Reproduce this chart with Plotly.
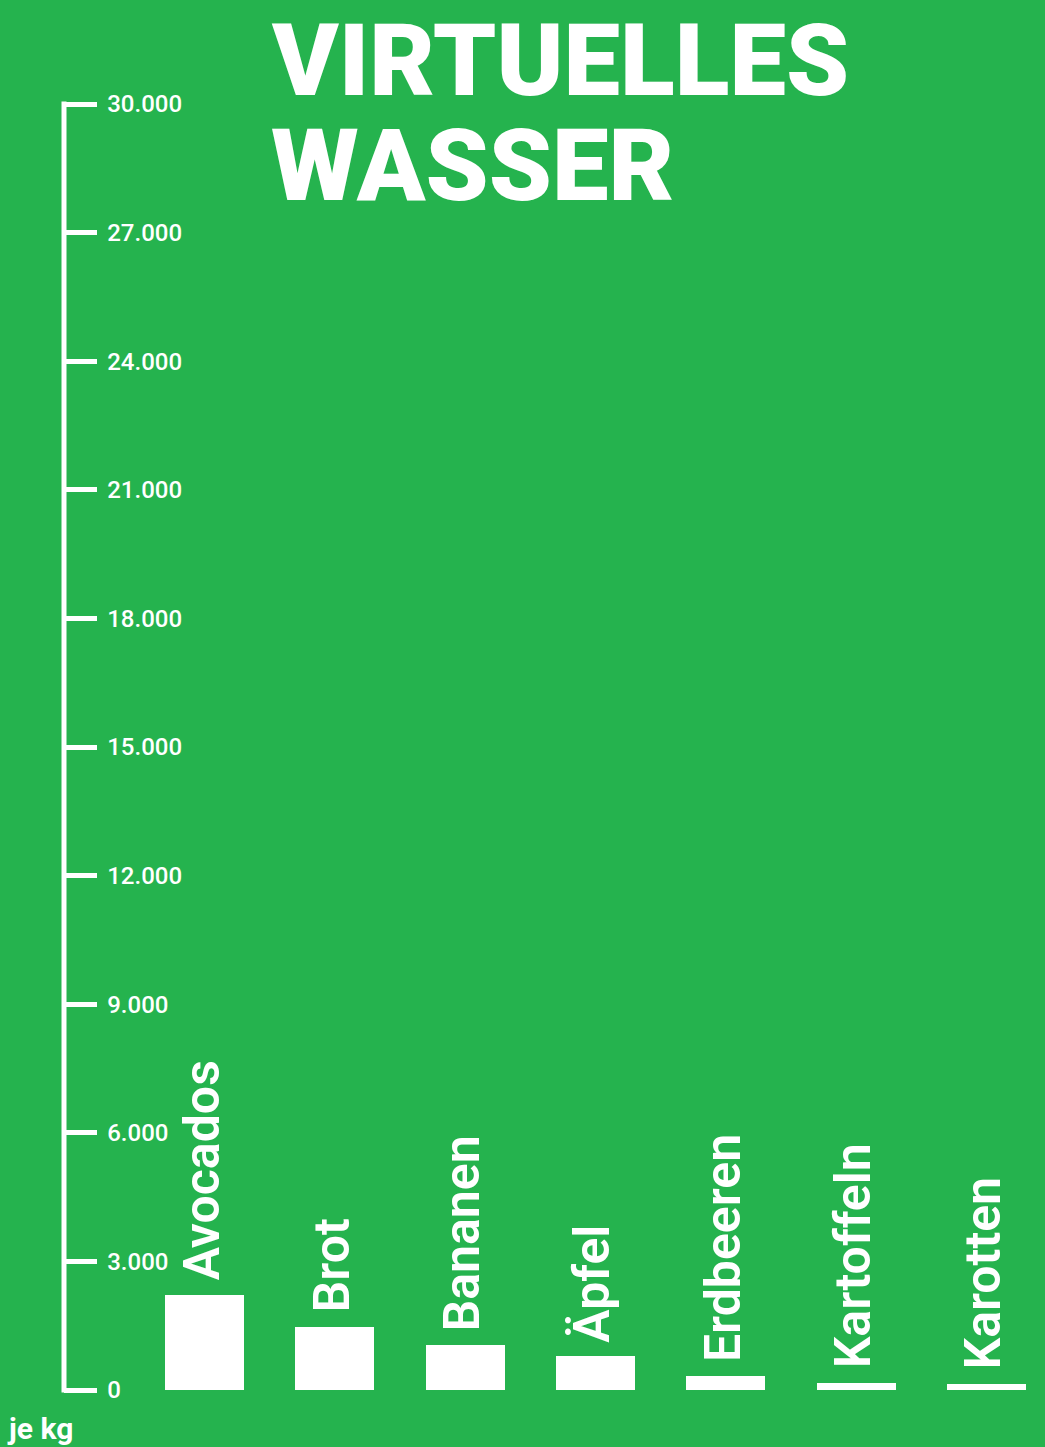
import plotly.graph_objects as go

categories = ["Avocados", "Brot", "Bananen", "Äpfel", "Erdbeeren", "Kartoffeln", "Karotten"]
liters_per_kg = [2220, 1480, 1040, 790, 320, 170, 150]
tick_values = [0, 3000, 6000, 9000, 12000, 15000, 18000, 21000, 24000, 27000, 30000]
title_lines = ["VIRTUELLES", "WASSER"]
unit_label = "je kg"

GREEN = "#25b34e"
WHITE = "#ffffff"
FONT = "Roboto"

W, H = 1045, 1447
PAD = 20
L, R, T, B = 64, 0, 104 - PAD, 57 - PAD
plot_w = W - L - R
plot_h = H - T - B

y_min, y_max = 0, 30000
px_per_unit = (plot_h - 2 * PAD) / (y_max - y_min)
y_pad = PAD / px_per_unit
y_range = [y_min - y_pad, y_max + y_pad]

xs = list(range(len(categories)))
step = 130.33
first_center = 204.5
x_range = [(L - first_center) / step, (W - R - first_center) / step]

fig = go.Figure()
fig.add_trace(go.Bar(
    x=xs, y=liters_per_kg, width=0.606,
    marker=dict(color=WHITE, line=dict(width=0)),
    hoverinfo="skip", showlegend=False,
))

annotations = []
for xi, cat, v in zip(xs, categories, liters_per_kg):
    annotations.append(dict(
        x=xi, y=v, xref="x", yref="y", text=cat, textangle=-90,
        xanchor="center", yanchor="bottom", yshift=13, xshift=-3, showarrow=False,
        borderpad=0, font=dict(family=FONT, size=50, color=WHITE, weight=600),
    ))

def px_to_paper_x(px):
    return (px - L) / plot_w

def px_to_paper_y(py):
    return (H - B - py) / plot_h

TITLE_SIZE = 101
annotations.append(dict(
    x=px_to_paper_x(270), y=px_to_paper_y(0), xref="paper", yref="paper",
    text=title_lines[0], xanchor="left", yanchor="top", showarrow=False, borderpad=0,
    font=dict(family=FONT, size=TITLE_SIZE, color=WHITE, weight=900),
))
annotations.append(dict(
    x=px_to_paper_x(270), y=px_to_paper_y(165), xref="paper", yref="paper",
    text=title_lines[1], xanchor="left", yanchor="middle", showarrow=False, borderpad=0,
    font=dict(family=FONT, size=TITLE_SIZE, color=WHITE, weight=900),
))

annotations.append(dict(
    x=px_to_paper_x(6), y=px_to_paper_y(1428), xref="paper", yref="paper",
    text=unit_label, xanchor="left", yanchor="middle", showarrow=False, borderpad=0,
    font=dict(family=FONT, size=30, color=WHITE, weight=700),
))

# vertical axis line ending exactly at the 0 and 30.000 ticks
half_w = 2.5 / px_per_unit
fig.add_shape(type="line", xref="paper", yref="y", x0=0, x1=0,
              y0=y_min - half_w, y1=y_max + half_w,
              line=dict(color=WHITE, width=5))

fig.update_layout(
    width=W, height=H, autosize=False,
    margin=dict(l=L, r=R, t=T, b=B, pad=0),
    paper_bgcolor=GREEN, plot_bgcolor=GREEN,
    separators=",.",
    bargap=0,
    annotations=annotations,
    xaxis=dict(range=x_range, visible=False, showgrid=False, zeroline=False, fixedrange=True),
    yaxis=dict(
        range=y_range, tickvals=tick_values, tickformat=",d",
        showline=False,
        ticks="inside", ticklen=33, tickwidth=5, tickcolor=WHITE,
        ticklabelposition="inside", ticklabelstandoff=12,
        tickfont=dict(family=FONT, size=24, color=WHITE, weight=500),
        showgrid=False, zeroline=False, fixedrange=True,
    ),
)

fig.write_html("out.html")
